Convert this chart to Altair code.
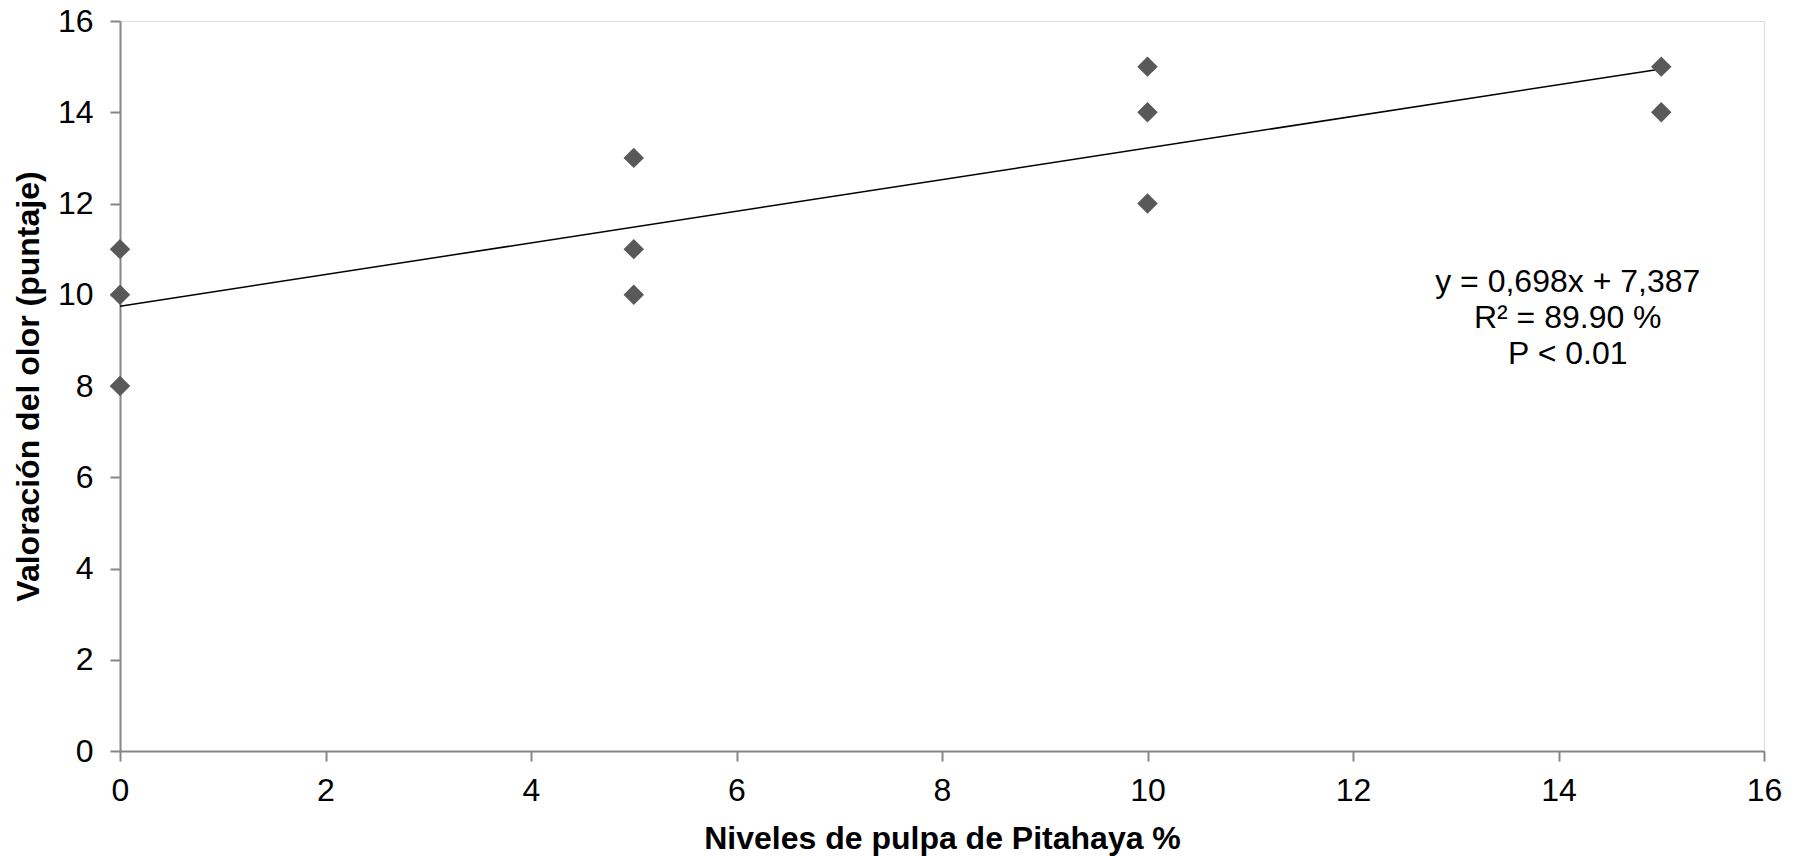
import altair as alt
import pandas as pd

# Scatter data
x_vals = [0, 0, 0, 5, 5, 5, 10, 10, 10, 15, 15]
y_vals = [11, 10, 8, 13, 11, 10, 15, 14, 12, 15, 14]

# Trend line endpoints (as drawn)
trend_x = [0, 15]
trend_y = [9.75, 14.95]

# Annotation
ann_lines = ["y = 0,698x + 7,387", "R² = 89.90 %", "P < 0.01"]
ann_x = [14.09]
ann_y = [10.05]

pts = pd.DataFrame({"x": x_vals, "y": y_vals})
trend = pd.DataFrame({"x": trend_x, "y": trend_y})
ann = pd.DataFrame({"x": ann_x, "y": ann_y, "t": [ann_lines]})

FONT = "Liberation Sans"

xscale = alt.Scale(domain=[0, 16], nice=False, zero=False)
yscale = alt.Scale(domain=[0, 16], nice=False, zero=False)

xaxis = alt.Axis(
    title="Niveles de pulpa de Pitahaya %",
    values=list(range(0, 17, 2)),
    format="d",
    grid=False,
    domainColor="#868686", domainWidth=2,
    tickColor="#868686", tickWidth=2, tickSize=10,
    labelFont=FONT, labelFontSize=32, labelColor="#000000", labelPadding=14,
    labelFlush=False,
    titleFont=FONT, titleFontSize=32, titleFontWeight="bold", titleColor="#000000",
    titlePadding=17,
)
yaxis = alt.Axis(
    title="Valoración del olor (puntaje)",
    values=list(range(0, 17, 2)),
    format="d",
    grid=False,
    domainColor="#868686", domainWidth=2,
    tickColor="#868686", tickWidth=2, tickSize=10,
    labelFont=FONT, labelFontSize=32, labelColor="#000000", labelPadding=17,
    labelFlush=False,
    titleFont=FONT, titleFontSize=32, titleFontWeight="bold", titleColor="#000000",
    titlePadding=12,
)

points = alt.Chart(pts).mark_point(
    shape="diamond", filled=True, size=420, color="#595959", opacity=1
).encode(
    x=alt.X("x:Q", scale=xscale, axis=xaxis),
    y=alt.Y("y:Q", scale=yscale, axis=yaxis),
)

line = alt.Chart(trend).mark_line(color="#000000", strokeWidth=1.5).encode(
    x=alt.X("x:Q", scale=xscale),
    y=alt.Y("y:Q", scale=yscale),
)

text = alt.Chart(ann).mark_text(
    font=FONT, fontSize=32, align="center", baseline="alphabetic",
    lineHeight=36, color="#000000"
).encode(
    x=alt.X("x:Q", scale=xscale),
    y=alt.Y("y:Q", scale=yscale),
    text="t",
)

chart = alt.layer(line, points, text).properties(
    width=1644, height=730,
    autosize=alt.AutoSizeParams(type="none"),
    padding={"left": 120, "top": 21, "right": 40, "bottom": 105},
).configure_view(stroke=None).configure(background="white")

chart.save("out.html", embed_options={"renderer": "svg", "actions": False})
